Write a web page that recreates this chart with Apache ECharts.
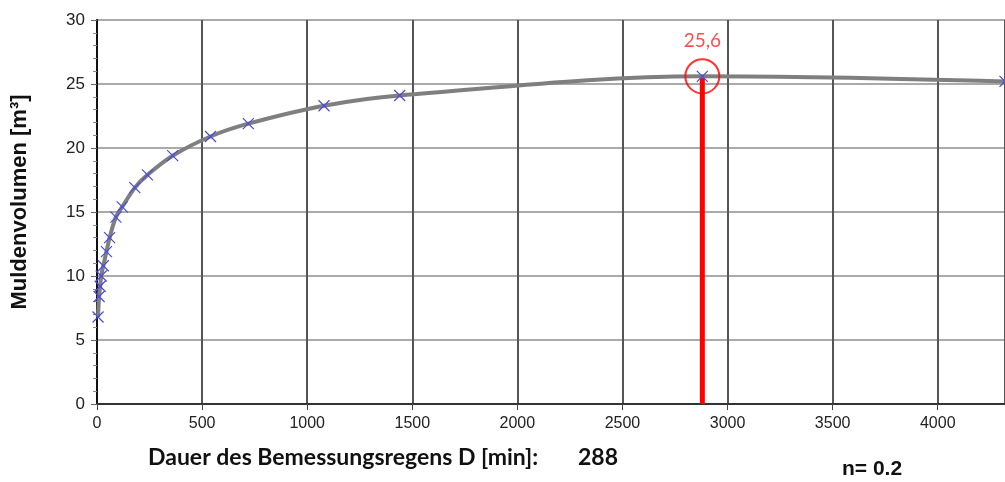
<!DOCTYPE html>
<html>
<head>
<meta charset="utf-8">
<script src="https://cdn.jsdelivr.net/npm/echarts@6/dist/echarts.min.js"></script>
<style>
html,body{margin:0;padding:0;background:#fff;}
#chart{width:1005px;height:482px;}
</style>
</head>
<body>
<div id="chart"></div>
<script>
// Durations of the design rain D [min]
const durations = [5, 10, 15, 20, 30, 45, 60, 90, 120, 180, 240, 360, 540, 720, 1080, 1440, 2880, 4320];
// Trough volume [m³]
const volumes = [6.8, 8.4, 9.2, 10.0, 10.8, 11.9, 13.0, 14.6, 15.4, 16.9, 17.9, 19.4, 20.9, 21.9, 23.3, 24.1, 25.6, 25.2];
// Maximum (highlighted)
const peakDuration = [2880];
const peakVolume = [25.6];
const peakLabel = ['25,6'];
// Axis settings
const xTicks = [0, 500, 1000, 1500, 2000, 2500, 3000, 3500, 4000];
const yTicks = [0, 5, 10, 15, 20, 25, 30];
// Texts
const footerLabel = 'Dauer des Bemessungsregens D [min]:';
const footerValue = '288';
const footerN = 'n= 0.2';
const yName = 'Muldenvolumen [m³]';

const curveData = durations.map((d, i) => [d, volumes[i]]);
const peakLine = [[peakDuration[0], 0], [peakDuration[0], peakVolume[0]]];

const chart = echarts.init(document.getElementById('chart'), null, {renderer: 'canvas'});
chart.setOption({
  animation: false,
  backgroundColor: '#ffffff',
  grid: {left: 97, right: 0, top: 20, bottom: 78, show: true, borderColor: '#222', borderWidth: 1, backgroundColor: 'transparent'},
  xAxis: {
    type: 'value', min: 0, max: 4320, interval: 500,
    axisLine: {show: true, onZero: false, lineStyle: {color: '#333', width: 2}},
    axisTick: {show: true, length: 6, lineStyle: {color: '#444', width: 1}},
    axisLabel: {color: '#222', fontSize: 16, fontFamily: 'Liberation Sans, Arial', margin: 12, showMaxLabel: false,
      formatter: v => xTicks.includes(v) ? String(v) : ''},
    splitLine: {show: true, lineStyle: {color: '#555', width: 2}}
  },
  yAxis: {
    type: 'value', min: 0, max: 30, interval: 5,
    axisLine: {show: true, lineStyle: {color: '#111', width: 2}},
    axisTick: {show: true, length: 6, lineStyle: {color: '#666', width: 1}},
    minorTick: {show: true, splitNumber: 5, length: 4, lineStyle: {color: '#888', width: 1}},
    axisLabel: {color: '#222', fontSize: 17, fontFamily: 'Liberation Sans, Arial', margin: 12,
      formatter: v => yTicks.includes(v) ? String(v) : ''},
    splitLine: {show: true, lineStyle: {color: '#aaa', width: 2}}
  },
  series: [
    {
      type: 'line', data: peakLine, symbol: 'none', silent: true,
      lineStyle: {color: '#ff0000', width: 5}, z: 3
    },
    {
      type: 'line', data: curveData, smooth: 0.35,
      showSymbol: true, showAllSymbol: true,
      symbol: 'path://M0,0L10,10M10,0L0,10', symbolSize: 11,
      itemStyle: {color: 'none', borderColor: '#4a4ae0', borderWidth: 1.2},
      lineStyle: {color: '#7f7f7f', width: 4},
      z: 4
    },
    {
      type: 'scatter', data: [[peakDuration[0], peakVolume[0]]],
      symbol: 'circle', symbolSize: 34,
      itemStyle: {color: 'rgba(0,0,0,0)', borderColor: '#ff0000', borderWidth: 2},
      label: {show: true, position: 'top', distance: 8, formatter: () => peakLabel[0],
        color: '#ff2020', fontSize: 19, fontFamily: 'Lato, Open Sans'},
      z: 5
    }
  ],
  graphic: [
    {type: 'text', x: 20, y: 202, rotation: Math.PI / 2,
      style: {text: yName, font: 'bold 22px "Liberation Sans", Arial', fill: '#111', align: 'center', verticalAlign: 'middle'}},
    {type: 'text', left: 148, top: 446, style: {text: footerLabel, font: 'bold 23px Lato', fill: '#111'}},
    {type: 'text', left: 578, top: 446, style: {text: footerValue, font: 'bold 23px Lato', fill: '#111'}},
    {type: 'text', left: 842, top: 459, style: {text: footerN, font: 'bold 21px "Liberation Sans", Arial', fill: '#111'}}
  ]
});
</script>
</body>
</html>
